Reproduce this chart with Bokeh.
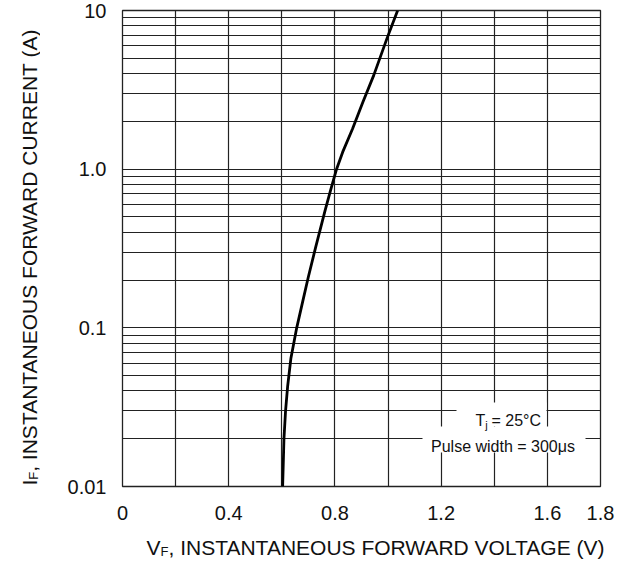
from bokeh.plotting import figure
from bokeh.models import Range1d, FixedTicker, Label, BoxAnnotation
from bokeh.layouts import column, row
from bokeh.embed import file_html
from bokeh.resources import INLINE

# ---- data ----
vf_volts = [0.603, 0.608, 0.614, 0.622, 0.634, 0.656, 0.680, 0.700, 0.727,
            0.763, 0.785, 0.806, 0.829, 0.866, 0.905, 0.946, 0.995, 1.036]
if_amps = [0.01, 0.02, 0.03, 0.043, 0.064, 0.10, 0.15, 0.21, 0.32,
           0.55, 0.75, 1.0, 1.28, 1.79, 2.64, 3.9, 6.6, 10.0]

x_tick_values = [0, 0.4, 0.8, 1.2, 1.6, 1.8]
x_grid_values = [0, 0.2, 0.4, 0.6, 0.8, 1.0, 1.2, 1.4, 1.6, 1.8]
y_tick_values = [0.01, 0.1, 1.0, 10.0]
y_tick_labels = ["0.01", "0.1", "1.0", "10"]
y_grid_values = [m * d for d in (0.01, 0.1, 1.0) for m in range(1, 10)] + [10.0]

FONT = "Liberation Sans"
TXT = "#111111"
GRID = "#222222"

# ---------------- main chart ----------------
p = figure(width=593, height=530, output_backend="svg", toolbar_location=None,
           x_range=Range1d(0, 1.8), y_range=Range1d(0.01, 10), y_axis_type="log",
           min_border_left=82, min_border_right=33, min_border_top=10,
           min_border_bottom=44)
p.background_fill_color = "white"
p.border_fill_color = "white"
p.outline_line_color = GRID
p.outline_line_width = 1.3

p.xgrid.ticker = FixedTicker(ticks=x_grid_values)
p.ygrid.ticker = FixedTicker(ticks=y_grid_values)
for g in (p.xgrid, p.ygrid):
    g.grid_line_color = GRID
    g.grid_line_width = 1.2
    g.grid_line_alpha = 1.0

p.xaxis.ticker = FixedTicker(ticks=x_tick_values)
p.yaxis.ticker = FixedTicker(ticks=y_tick_values)
p.yaxis.major_label_overrides = {v: s for v, s in zip(y_tick_values, y_tick_labels)}
for ax in (p.xaxis, p.yaxis):
    ax.axis_line_color = None
    ax.major_tick_line_color = None
    ax.minor_tick_line_color = None
    ax.major_tick_out = 0
    ax.minor_tick_out = 0
    ax.major_label_text_font = FONT
    ax.major_label_text_font_size = "20px"
    ax.major_label_text_color = TXT
p.xaxis.major_label_standoff = 19
p.yaxis.major_label_standoff = 16

p.line(vf_volts, if_amps, line_color="black", line_width=2.8, line_join="round")

# white backgrounds behind the note
p.add_layout(BoxAnnotation(left=334, right=424, bottom=60, top=84,
                           left_units="screen", right_units="screen",
                           bottom_units="screen", top_units="screen",
                           fill_color="white", fill_alpha=1.0, line_color=None))
p.add_layout(BoxAnnotation(left=300, right=463, bottom=34, top=60,
                           left_units="screen", right_units="screen",
                           bottom_units="screen", top_units="screen",
                           fill_color="white", fill_alpha=1.0, line_color=None))


def lab(fig, x, y, text, size, angle=0, align="left"):
    fig.add_layout(Label(x=x, y=y, x_units="screen", y_units="screen", text=text,
                         text_font=FONT, text_font_size=size, text_color=TXT,
                         text_align=align, text_baseline="alphabetic",
                         angle=angle, angle_units="deg"))


lab(p, 353, 66, "T", "16px")
lab(p, 362.8, 62, "j", "11px")
lab(p, 369, 66, "= 25°C", "16px")
lab(p, 380.5, 40, "Pulse width = 300μs", "16px", align="center")


def blank(w, h):
    f = figure(width=w, height=h, output_backend="svg", toolbar_location=None,
               x_range=Range1d(0, 1), y_range=Range1d(0, 1),
               x_axis_location=None, y_axis_location=None,
               min_border=0, min_border_left=0, min_border_right=0,
               min_border_top=0, min_border_bottom=0)
    f.grid.visible = False
    f.outline_line_color = None
    f.background_fill_color = "white"
    f.border_fill_color = "white"
    return f


# ---------------- y axis title (frame aligned with chart frame) ----------------
fy = blank(40, 530)
lab(fy, 28.5, 1, "I", "21px", angle=90)
lab(fy, 33, 6.8, "F", "13px", angle=90)
lab(fy, 28.5, 14.7, ", INSTANTANEOUS FORWARD CURRENT (A)", "21px", angle=90)

# ---------------- x axis title ----------------
fx = blank(633, 35)
lab(fx, 146, 18, "V", "21px")
lab(fx, 160, 14, "F", "13px")
lab(fx, 168, 18, ", INSTANTANEOUS FORWARD VOLTAGE (V)", "21px")

layout = column(row(fy, p), fx)
open("out.html", "w").write(file_html(layout, INLINE))
